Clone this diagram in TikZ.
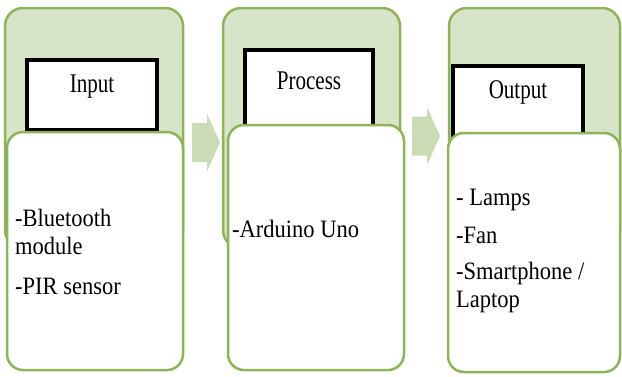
\documentclass[tikz,border=0pt]{standalone}
\usepackage{fontspec}
\setmainfont{Liberation Serif}
\newfontfamily\bodyfont[FakeStretch=0.9]{Liberation Serif}
\newfontfamily\headfont[FakeStretch=0.78]{Liberation Serif}
\usetikzlibrary{fit}
\definecolor{panelgreen}{HTML}{8FB35A}
\definecolor{panelfill}{HTML}{D8E4C8}
\definecolor{arrowfill}{HTML}{CBDBB6}
\tikzset{
  panel/.style={draw=panelgreen, fill=panelfill, line width=2.5pt,
                rounded corners=18pt, inner sep=0pt},
  listbox/.style={draw=panelgreen, fill=white, line width=2.5pt,
                  rounded corners=16pt, inner sep=0pt},
  head/.style={draw=black, fill=white, line width=3.4pt, inner sep=0pt,
               font=\headfont\fontsize{27}{30}\selectfont, text height=26pt, text depth=16pt},
  item/.style={anchor=base west, align=left, inner sep=0pt,
               font=\bodyfont\fontsize{25}{28}\selectfont},
  blockarr/.style={fill=arrowfill, draw=none},
}

\begin{document}
\begin{tikzpicture}[x=1pt,y=-1pt]
  \useasboundingbox (0,0) rectangle (622,376);
  % green back panels
  \node[panel, fit={(5,8) (183,248)}] (inpanel) {};
  \node[panel, fit={(223,8) (400,248)}] (procpanel) {};
  \node[panel, fit={(449,8) (620,248)}] (outpanel) {};
  % stage titles
  \node[head, fit={(27,60) (157,130)}] (inhead) {Input};
  \node[head, fit={(245,50) (373,130)}] (prochead) {Process};
  \node[head, fit={(453,66) (583,136)}] (outhead) {Output};
  % white lists
  \node[listbox, fit={(7,132) (183,370)}] (inlist) {};
  \node[listbox, fit={(228,125) (404,370)}] (proclist) {};
  \node[listbox, fit={(448,133) (620,372)}] (outlist) {};
  % list items (base = last line)
  \node[item] (bt) at (15,254) {-Bluetooth\\module};
  \node[item] (pir) at (15,294) {-PIR sensor};
  \node[item] (uno) at (232,237) {-Arduino Uno};
  \node[item] (lamps) at (456,205) {- Lamps};
  \node[item] (fan) at (456,243) {-Fan};
  \node[item] (phone) at (456,307) {-Smartphone /\\Laptop};
  % block arrows between stages
  \foreach \ax/\ay in {192/142.5, 412/136} {
    \fill[blockarr] (\ax,\ay-19.5) -- ++(15,0) -- (\ax+15,\ay-29) -- (\ax+28,\ay)
      -- (\ax+15,\ay+29) -- (\ax+15,\ay+19.5) -- (\ax,\ay+19.5) -- cycle;
  }
\end{tikzpicture}
\end{document}
